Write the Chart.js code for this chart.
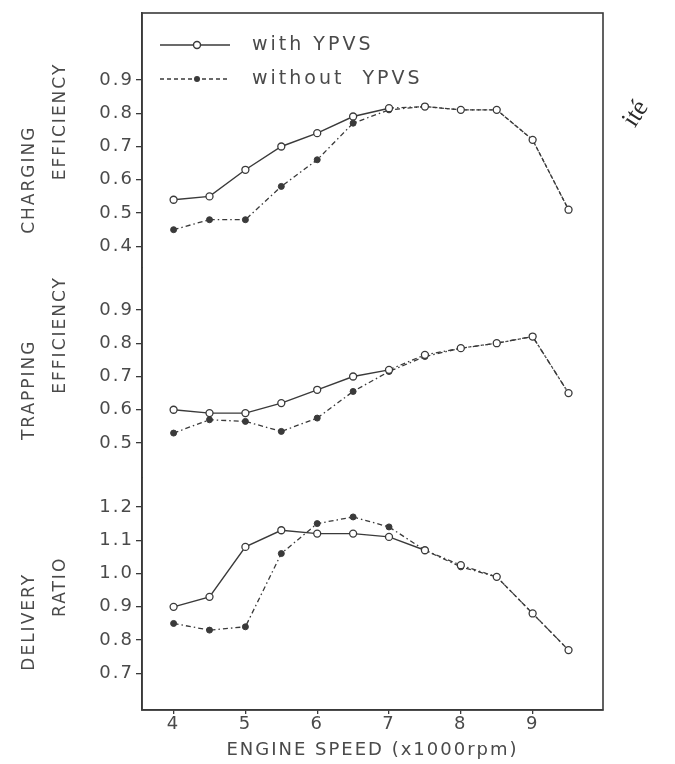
<!DOCTYPE html>
<html>
<head>
<meta charset="utf-8">
<script src="https://cdn.jsdelivr.net/npm/chart.js@4/dist/chart.umd.min.js"></script>
<style>
  html, body { margin: 0; padding: 0; background: #fff; }
  canvas { display: block; }
</style>
</head>
<body>
<canvas id="chart" width="675" height="764"></canvas>
<script>
// engine speed (x1000 rpm)
const speeds = [4, 4.5, 5, 5.5, 6, 6.5, 7, 7.5, 8, 8.5, 9, 9.5];

// charging efficiency
const chargingWith    = [0.54, 0.55, 0.63, 0.70, 0.74, 0.79, 0.815, 0.82, 0.81, 0.81, 0.72, 0.51];
const chargingWithout = [0.45, 0.48, 0.48, 0.58, 0.66, 0.77, 0.81, 0.82, 0.81, 0.81, 0.72, 0.51];

// trapping efficiency
const trappingWith    = [0.60, 0.59, 0.59, 0.62, 0.66, 0.70, 0.72, 0.765, 0.785, 0.80, 0.82, 0.65];
const trappingWithout = [0.53, 0.57, 0.565, 0.535, 0.575, 0.655, 0.715, 0.76, 0.785, 0.80, 0.82, 0.65];

// delivery ratio
const deliveryWith    = [0.90, 0.93, 1.08, 1.13, 1.12, 1.12, 1.11, 1.07, 1.025, 0.99, 0.88, 0.77];
const deliveryWithout = [0.85, 0.83, 0.84, 1.06, 1.15, 1.17, 1.14, 1.07, 1.02, 0.99, 0.88, 0.77];

// speed from which both curves run together (drawn as one dashed curve)
const chargingMerge = 7;
const trappingMerge = 7;
const deliveryMerge = 7.5;

// tick labels
const speedTicks    = [4, 5, 6, 7, 8, 9];
const chargingTicks = [0.4, 0.5, 0.6, 0.7, 0.8, 0.9];
const trappingTicks = [0.5, 0.6, 0.7, 0.8, 0.9];
const deliveryTicks = [0.7, 0.8, 0.9, 1.0, 1.1, 1.2];

const seriesNames = ['with YPVS', 'without YPVS'];
const xTitle = 'ENGINE SPEED (x1000rpm)';

const INK = '#3a3a3a';
const TEXT = '#4a4a4a';
const FONT = "'DejaVu Sans', sans-serif";
const DASH = [5, 3, 1.5, 3];

// stacked panel axes (bottom panel declared first, it ends up at the bottom)
function panelScale(min, max, ticks) {
    return {
        type: 'linear',
        position: 'left',
        stack: 'panels',
        stackWeight: max - min,
        min: min,
        max: max,
        afterBuildTicks: (s) => { s.ticks = ticks.map(v => ({ value: v })); },
        afterFit: (s) => { s.width = 142; },
        grid: { drawOnChartArea: false, drawTicks: true, tickLength: 6, color: INK, lineWidth: 1.3 },
        border: { display: true, color: INK, width: 1.6 },
        ticks: {
            color: TEXT,
            padding: 2,
            font: { family: FONT, size: 18 },
            callback: (v) => Number(v).toFixed(1)
        }
    };
}

function pts(arr) {
    return speeds.map((x, i) => ({ x: x, y: arr[i] }));
}

function withSet(arr, axis, mergeAt) {
    return {
        label: seriesNames[0], data: pts(arr), yAxisID: axis,
        borderColor: INK, borderWidth: 1.4,
        pointRadius: 3.5, pointBackgroundColor: '#fff', pointBorderColor: INK, pointBorderWidth: 1.3,
        tension: 0,
        segment: {
            borderDash: (c) => (c.p0.parsed.x >= mergeAt ? DASH : undefined),
            borderWidth: (c) => (c.p0.parsed.x >= mergeAt ? 1.3 : undefined)
        }
    };
}
function withoutSet(arr, axis) {
    return {
        label: seriesNames[1], data: pts(arr), yAxisID: axis,
        borderColor: INK, borderWidth: 1.3, borderDash: DASH,
        pointRadius: 3, pointBackgroundColor: INK, pointBorderColor: INK, pointBorderWidth: 1,
        tension: 0
    };
}

// texts on the left side, anchored on panel values
const panelTitles = [
    { axis: 'yC', text: 'CHARGING', x: 30, at: 0.60 },
    { axis: 'yC', text: 'EFFICIENCY', x: 61, at: 0.775 },
    { axis: 'yT', text: 'TRAPPING', x: 30, at: 0.66 },
    { axis: 'yT', text: 'EFFICIENCY', x: 61, at: 0.825 },
    { axis: 'yD', text: 'DELIVERY', x: 30, at: 0.855 },
    { axis: 'yD', text: 'RATIO', x: 61, at: 0.96 }
];

const paperPlugin = {
    id: 'paper',
    beforeDraw(chart) {
        const ctx = chart.ctx;
        ctx.save();
        ctx.fillStyle = '#fff';
        ctx.fillRect(0, 0, chart.width, chart.height);
        ctx.restore();
        ctx.letterSpacing = '2px';
    },
    afterDraw(chart) {
        const ctx = chart.ctx;
        const a = chart.chartArea;
        ctx.save();
        // frame
        ctx.strokeStyle = INK;
        ctx.lineWidth = 1.6;
        ctx.strokeRect(a.left, a.top, a.right - a.left, a.bottom - a.top);

        // panel titles
        ctx.fillStyle = TEXT;
        ctx.font = `17px ${FONT}`;
        ctx.letterSpacing = '2px';
        ctx.textAlign = 'center';
        ctx.textBaseline = 'middle';
        panelTitles.forEach(t => {
            const y = chart.scales[t.axis].getPixelForValue(t.at);
            ctx.save();
            ctx.translate(t.x, y);
            ctx.rotate(-Math.PI / 2);
            ctx.fillText(t.text, 0, 0);
            ctx.restore();
        });

        // legend
        const lx = a.left + 18, lw = 70, tx = a.left + 110;
        const rows = [a.top + 32, a.top + 66];
        ctx.lineWidth = 1.4;
        ctx.beginPath();
        ctx.moveTo(lx, rows[0]); ctx.lineTo(lx + lw, rows[0]);
        ctx.stroke();
        ctx.beginPath();
        ctx.arc(lx + 37, rows[0], 3.5, 0, Math.PI * 2);
        ctx.fillStyle = '#fff'; ctx.fill(); ctx.stroke();
        ctx.setLineDash([4, 3]);
        ctx.lineWidth = 1.3;
        ctx.beginPath();
        ctx.moveTo(lx, rows[1]); ctx.lineTo(lx + lw, rows[1]);
        ctx.stroke();
        ctx.setLineDash([]);
        ctx.beginPath();
        ctx.arc(lx + 37, rows[1], 3, 0, Math.PI * 2);
        ctx.fillStyle = INK; ctx.fill();
        ctx.fillStyle = TEXT;
        ctx.font = `19px ${FONT}`;
        ctx.letterSpacing = '3px';
        ctx.textAlign = 'left';
        ctx.fillText(seriesNames[0], tx, rows[0]);
        ctx.fillText(seriesNames[1].replace(' ', '  '), tx, rows[1]);

        // stamp left on the scan
        ctx.letterSpacing = '0px';
        ctx.font = "26px 'Liberation Serif', serif";
        ctx.fillStyle = '#2a2a2a';
        ctx.translate(636, 114);
        ctx.rotate(-1.0);
        ctx.textAlign = 'center';
        ctx.fillText('ité', 0, 0);
        ctx.restore();
    }
};

const datasets = [
    withSet(chargingWith, 'yC', chargingMerge), withoutSet(chargingWithout, 'yC'),
    withSet(trappingWith, 'yT', trappingMerge), withoutSet(trappingWithout, 'yT'),
    withSet(deliveryWith, 'yD', deliveryMerge), withoutSet(deliveryWithout, 'yD')
];

new Chart(document.getElementById('chart'), {
    type: 'line',
    data: { datasets: datasets },
    options: {
        responsive: false,
        animation: false,
        devicePixelRatio: 1,
        layout: { padding: { left: 0, right: 72, top: 13, bottom: 0 } },
        plugins: { legend: { display: false }, tooltip: { enabled: false } },
        scales: {
            x: {
                type: 'linear',
                min: 3.56,
                max: 9.98,
                afterBuildTicks: (s) => { s.ticks = speedTicks.map(v => ({ value: v })); },
                afterFit: (s) => { s.height = 54; },
                grid: { drawOnChartArea: false, tickLength: 4, color: INK, lineWidth: 1.3 },
                border: { display: true, color: INK, width: 1.6 },
                ticks: { color: TEXT, padding: 0, font: { family: FONT, size: 18 } },
                title: {
                    display: true, text: xTitle, color: TEXT,
                    font: { family: FONT, size: 18 }, padding: { top: 0, bottom: 3 }
                }
            },
            yD: panelScale(0.590, 1.287, deliveryTicks),
            yT: panelScale(0.395, 1.026, trappingTicks),
            yC: panelScale(0.335, 1.101, chargingTicks)
        }
    },
    plugins: [paperPlugin]
});
</script>
</body>
</html>
